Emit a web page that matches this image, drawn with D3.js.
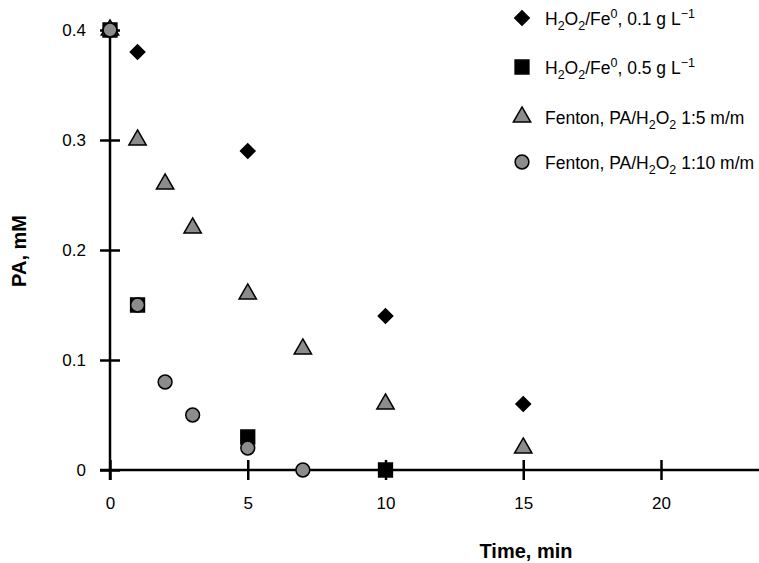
<!DOCTYPE html>
<meta charset="utf-8">
<body style="margin:0;background:#fff">
<script src="https://d3js.org/d3.v7.min.js"></script>
<script>
// data
var timeDiamond = [0, 1, 5, 10, 15];
var paDiamond   = [0.40, 0.38, 0.29, 0.14, 0.06];
var timeSquare  = [0, 1, 5, 10];
var paSquare    = [0.40, 0.15, 0.03, 0.0];
var timeTri     = [0, 1, 2, 3, 5, 7, 10, 15];
var paTri       = [0.40, 0.30, 0.26, 0.22, 0.16, 0.11, 0.06, 0.02];
var timeCircle  = [0, 1, 2, 3, 5, 7];
var paCircle    = [0.40, 0.15, 0.08, 0.05, 0.02, 0.0];
var xTicks = [0, 5, 10, 15, 20];
var yTicks = [0, 0.1, 0.2, 0.3, 0.4];
var yTickLabels = ["0", "0.1", "0.2", "0.3", "0.4"];

// legend text pieces: [text, kind]
var legendLabels = [
  [["H", ""], ["2", "sub"], ["O", ""], ["2", "sub"], ["/Fe", ""], ["0", "sup"], [", 0.1 g L", ""], ["\u22121", "sup"]],
  [["H", ""], ["2", "sub"], ["O", ""], ["2", "sub"], ["/Fe", ""], ["0", "sup"], [", 0.5 g L", ""], ["\u22121", "sup"]],
  [["Fenton, PA/H", ""], ["2", "sub"], ["O", ""], ["2", "sub"], [" 1:5 m/m", ""]],
  [["Fenton, PA/H", ""], ["2", "sub"], ["O", ""], ["2", "sub"], [" 1:10 m/m", ""]]
];

var W = 759, H = 563;
var svg = d3.select("body").append("svg")
    .attr("width", W).attr("height", H)
    .style("font-family", "Arial, 'Liberation Sans', sans-serif");

var x = d3.scaleLinear().domain([0, 20]).range([110, 661]);
var y = d3.scaleLinear().domain([0, 0.4]).range([470, 30]);

var series = [
  {t: timeDiamond, v: paDiamond, sym: d3.symbolSquare, size: 105, rot: 45, fill: "#000"},
  {t: timeSquare, v: paSquare, sym: d3.symbolSquare, size: 190, rot: 0, fill: "#000"},
  {t: timeTri, v: paTri, sym: d3.symbolTriangle, size: 130, rot: 0, fill: "#8c8c8c"},
  {t: timeCircle, v: paCircle, sym: d3.symbolCircle, size: 150, rot: 0, fill: "#8c8c8c"}
];

// axes
var yAxis = svg.append("g")
    .attr("transform", "translate(" + x(0) + ",0)")
    .call(d3.axisLeft(y).tickValues(yTicks).tickFormat(function(d, i) { return yTickLabels[i]; }).tickSize(10).tickPadding(14));
yAxis.select(".domain").remove();
yAxis.selectAll(".tick line").attr("x1", -10).attr("x2", 10).attr("stroke", "#000").attr("stroke-width", 2.5);
yAxis.selectAll(".tick text").style("font-size", "17px").attr("fill", "#000");
svg.append("line").attr("x1", x(0)).attr("x2", x(0)).attr("y1", y(0.4)).attr("y2", y(0) + 10)
    .attr("stroke", "#000").attr("stroke-width", 2.5);

var xAxis = svg.append("g")
    .attr("transform", "translate(0," + y(0) + ")")
    .call(d3.axisBottom(x).tickValues(xTicks).tickFormat(d3.format("d")).tickSize(10).tickPadding(17));
xAxis.select(".domain").remove();
xAxis.selectAll(".tick line").attr("y1", -10).attr("y2", 10).attr("stroke", "#000").attr("stroke-width", 2.5);
xAxis.selectAll(".tick text").style("font-size", "17px").attr("fill", "#000");
svg.append("line").attr("x1", x(0) - 10).attr("x2", W).attr("y1", y(0)).attr("y2", y(0))
    .attr("stroke", "#000").attr("stroke-width", 2.5);

// axis titles
svg.append("text").attr("x", 526).attr("y", 558).attr("text-anchor", "middle")
    .style("font-size", "20px").style("font-weight", "bold").text("Time, min");
svg.append("text").attr("transform", "translate(26,251) rotate(-90)").attr("text-anchor", "middle")
    .style("font-size", "20px").style("font-weight", "bold").text("PA, mM");

// points
series.forEach(function(s) {
  svg.append("g").selectAll("path")
    .data(s.t.map(function(t, i) { return [t, s.v[i]]; }))
    .join("path")
    .attr("transform", function(d) { return "translate(" + x(d[0]) + "," + y(d[1]) + ") rotate(" + s.rot + ")"; })
    .attr("d", d3.symbol().type(s.sym).size(s.size))
    .attr("fill", s.fill).attr("stroke", "#000").attr("stroke-width", 1.5);
});

// legend
var legY = [18, 67, 117, 162];
series.forEach(function(s, i) {
  svg.append("path")
    .attr("transform", "translate(522," + legY[i] + ") rotate(" + s.rot + ")")
    .attr("d", d3.symbol().type(s.sym).size(s.size))
    .attr("fill", s.fill).attr("stroke", "#000").attr("stroke-width", 1.5);
  var txt = svg.append("text").attr("x", 545).attr("y", legY[i] + 7).style("font-size", "17.5px");
  var shift = 0;
  legendLabels[i].forEach(function(p) {
    var dy = 0, fs = "17.5px";
    if (p[1] === "sub") { dy = 5 - shift; shift = 5; fs = "12.5px"; }
    else if (p[1] === "sup") { dy = -7 - shift; shift = -7; fs = "12.5px"; }
    else { dy = -shift; shift = 0; }
    txt.append("tspan").attr("dy", dy).style("font-size", fs).text(p[0]);
  });
});
</script>
</body>
